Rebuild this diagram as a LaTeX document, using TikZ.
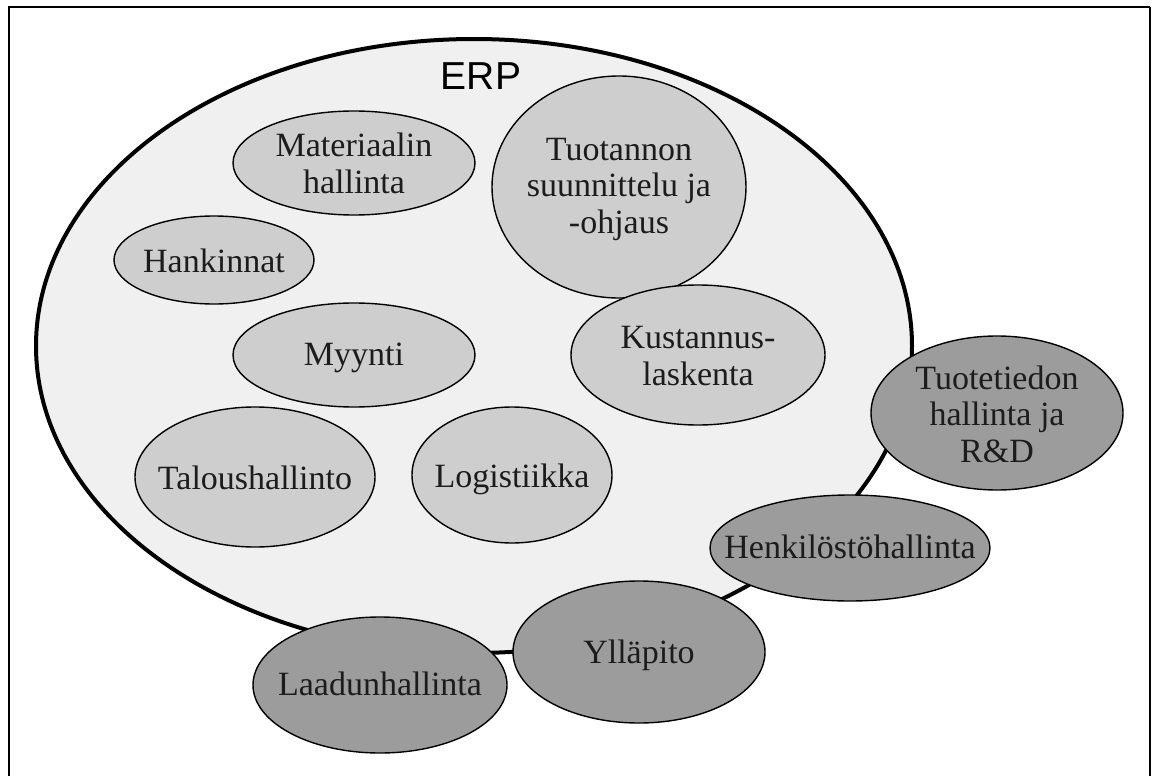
\documentclass[tikz,border=0pt]{standalone}
\usepackage{fontspec}
\setmainfont{Liberation Serif}
\setsansfont{Liberation Sans}
\usetikzlibrary{shapes.geometric}

\definecolor{erpfill}{RGB}{240,240,240}
\definecolor{innergray}{RGB}{206,206,206}
\definecolor{outergray}{RGB}{156,156,156}
\definecolor{textgray}{RGB}{28,28,28}

\begin{document}
\begin{tikzpicture}[x=1pt,y=-1pt,
  module/.style={ellipse, draw=black, line width=1.4pt, inner sep=0pt},
  innermod/.style={module, fill=innergray},
  outermod/.style={module, fill=outergray},
  % labels are placed by the baseline of their last line
  lbl/.style={anchor=base, align=center, inner sep=0pt, text=textgray,
              font=\fontsize{34}{36.5}\selectfont},
]
\useasboundingbox (0,0) rectangle (1152,776);

% frame (open at the bottom)
\draw[line width=1.8pt] (9,800) -- (9,7) -- (1150,7);
\draw[line width=1.2pt] (1150,7) -- (1150,800);

% the ERP system
\node[ellipse, draw=black, line width=4pt, fill=erpfill, inner sep=0pt,
      minimum width=876pt, minimum height=614pt] (erp) at (474,346) {};
\node[anchor=base, inner sep=0pt, font=\sffamily\fontsize{39}{39}\selectfont] (erplabel) at (481,90) {ERP};

% modules inside ERP
\node[innermod, minimum width=242pt, minimum height=104pt] (mat) at (354,163) {};
\node[lbl] (matl) at (mat.center |- 0,193) {Materiaalin\\hallinta};

\node[innermod, minimum width=200pt, minimum height=88pt] (han) at (214,260) {};
\node[lbl] (hanl) at (han.center |- 0,272) {Hankinnat};

\node[innermod, minimum width=242pt, minimum height=104pt] (myy) at (354,355) {};
\node[lbl] (myyl) at (myy.center |- 0,365) {Myynti};

\node[innermod, minimum width=254pt, minimum height=222pt] (tuo) at (619,187) {};
\node[lbl] (tuol) at (tuo.center |- 0,233) {Tuotannon\\suunnittelu ja\\-ohjaus};

\node[innermod, minimum width=254pt, minimum height=140pt] (kus) at (698,355) {};
\node[lbl] (kusl) at (kus.center |- 0,385) {Kustannus-\\laskenta};

\node[innermod, minimum width=240pt, minimum height=140pt] (tal) at (255,477) {};
\node[lbl] (tall) at (tal.center |- 0,489) {Taloushallinto};

\node[innermod, minimum width=200pt, minimum height=136pt] (log) at (512,475) {};
\node[lbl] (logl) at (log.center |- 0,487) {Logistiikka};

% modules outside ERP
\node[outermod, minimum width=252pt, minimum height=154pt] (tti) at (997,413) {};
\node[lbl] (ttil) at (tti.center |- 0,462) {Tuotetiedon\\hallinta ja\\R\&D};

\node[outermod, minimum width=280pt, minimum height=106pt] (hen) at (850,548) {};
\node[lbl] (henl) at (hen.center |- 0,558) {Henkilöstöhallinta};

\node[outermod, minimum width=252pt, minimum height=142pt] (yll) at (639,652) {};
\node[lbl] (ylll) at (yll.center |- 0,663) {Ylläpito};

\node[outermod, minimum width=254pt, minimum height=136pt] (laa) at (380,685) {};
\node[lbl] (laal) at (laa.center |- 0,695) {Laadunhallinta};
\end{tikzpicture}
\end{document}
